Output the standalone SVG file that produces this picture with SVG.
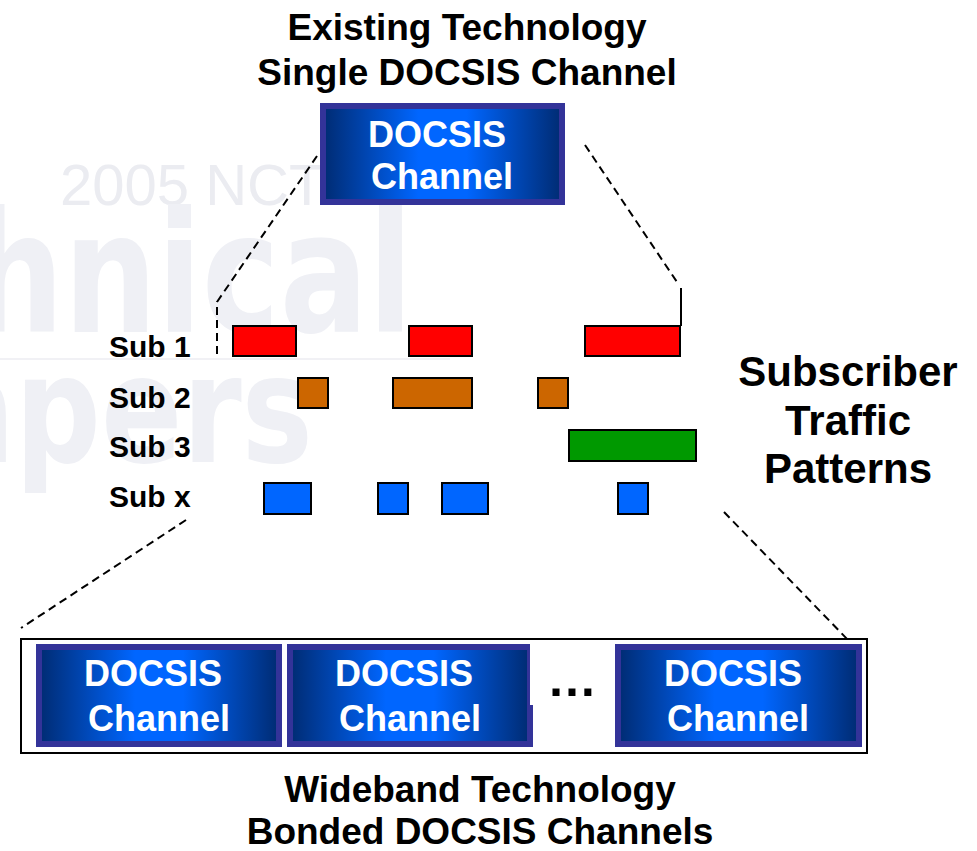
<svg xmlns="http://www.w3.org/2000/svg" width="977" height="851" viewBox="0 0 977 851">
<style>
.t{font-family:"Liberation Sans",Arial,sans-serif;font-weight:bold;fill:#000}
.h{font-size:37px;text-anchor:middle}
.sub{font-size:30px}
.bt{font-family:"Liberation Sans",Arial,sans-serif;font-weight:bold;font-size:36px;fill:#fff;text-anchor:middle}
.box{fill:url(#g);stroke:#333399;stroke-width:6}
.bar{stroke:#000;stroke-width:2}
.dash{fill:none;stroke:#000;stroke-width:2;stroke-dasharray:8 5}
.wm{font-family:"Liberation Sans",Arial,sans-serif;fill:#eff0f5}
.wmb{font-family:"DejaVu Sans","Liberation Sans",sans-serif;font-weight:900;fill:#eff0f5;text-anchor:end}
</style>
<defs>
<linearGradient id="g" x1="0" y1="0" x2="1" y2="0">
<stop offset="0" stop-color="#002b72"/>
<stop offset="0.4" stop-color="#0066ff"/>
<stop offset="0.6" stop-color="#0066ff"/>
<stop offset="1" stop-color="#002b72"/>
</linearGradient>
</defs>
<rect width="977" height="851" fill="#fff"/>
<g id="watermark">
<text class="wm" x="60" y="205" font-size="58" style="fill:#ebecf1">2005 NCTA</text>
<text class="wmb" font-size="168" transform="translate(413,332) scale(0.78,1)" x="0" y="0">Technical</text>
<text class="wmb" font-size="150" transform="translate(313,462) scale(0.8,1)" x="0" y="0">Papers</text>
<rect x="0" y="358" width="450" height="2" fill="#f1f1f5"/>
</g>
<g id="title-top">
<text class="t h" x="467" y="40">Existing Technology</text>
<text class="t h" x="467" y="85">Single DOCSIS Channel</text>
</g>
<g id="title-bottom">
<text class="t h" x="480" y="802">Wideband Technology</text>
<text class="t h" x="480" y="844">Bonded DOCSIS Channels</text>
</g>
<g id="title-right">
<text class="t" font-size="42" text-anchor="middle" x="848" y="386">Subscriber</text>
<text class="t" font-size="42" text-anchor="middle" x="848" y="435">Traffic</text>
<text class="t" font-size="42" text-anchor="middle" x="848" y="483">Patterns</text>
</g>
<g id="connectors">
<polyline class="dash" points="317,156 217,302 217,355"/>
<line class="dash" x1="585" y1="145" x2="679" y2="285"/>
<line x1="681" y1="288" x2="681" y2="326" stroke="#000" stroke-width="2"/>
<line class="dash" x1="186" y1="520" x2="21" y2="628"/>
<line class="dash" x1="724" y1="512" x2="850" y2="642"/>
</g>
<g id="single-channel">
<rect class="box" x="323" y="106" width="239" height="96"/>
<text class="bt" x="437" y="147">DOCSIS</text>
<text class="bt" x="442" y="189">Channel</text>
</g>
<g id="labels">
<text class="t sub" x="109" y="357">Sub 1</text>
<text class="t sub" x="109" y="408">Sub 2</text>
<text class="t sub" x="109" y="457">Sub 3</text>
<text class="t sub" x="109" y="507">Sub x</text>
</g>
<g id="sub1" fill="#ff0000">
<rect class="bar" x="233" y="326" width="63" height="30"/>
<rect class="bar" x="409" y="326" width="63" height="30"/>
<rect class="bar" x="585" y="326" width="95" height="30"/>
</g>
<g id="sub2" fill="#cc6600">
<rect class="bar" x="298" y="378" width="30" height="30"/>
<rect class="bar" x="393" y="378" width="79" height="30"/>
<rect class="bar" x="538" y="378" width="30" height="30"/>
</g>
<g id="sub3" fill="#009900">
<rect class="bar" x="569" y="430" width="127" height="31"/>
</g>
<g id="subx" fill="#0066ff">
<rect class="bar" x="264" y="483" width="47" height="31"/>
<rect class="bar" x="378" y="483" width="30" height="31"/>
<rect class="bar" x="442" y="483" width="46" height="31"/>
<rect class="bar" x="618" y="483" width="30" height="31"/>
</g>
<g id="bonded">
<rect x="21" y="639" width="846" height="114" fill="#fff" stroke="#000" stroke-width="2"/>
<g id="ch1">
<rect class="box" x="39" y="647" width="240" height="97"/>
<text class="bt" x="153" y="686">DOCSIS</text>
<text class="bt" x="159" y="731">Channel</text>
</g>
<g id="ch2">
<rect class="box" x="290" y="647" width="240" height="97"/>
<text class="bt" x="404" y="686">DOCSIS</text>
<text class="bt" x="410" y="731">Channel</text>
</g>
<g id="ellipsis">
<rect x="530" y="644" width="84" height="61" fill="#fff"/>
<text class="t" font-size="50" text-anchor="middle" x="572" y="696">…</text>
</g>
<g id="ch3">
<rect class="box" x="618" y="647" width="241" height="97"/>
<text class="bt" x="733" y="686">DOCSIS</text>
<text class="bt" x="738" y="731">Channel</text>
</g>
</g>
</svg>
